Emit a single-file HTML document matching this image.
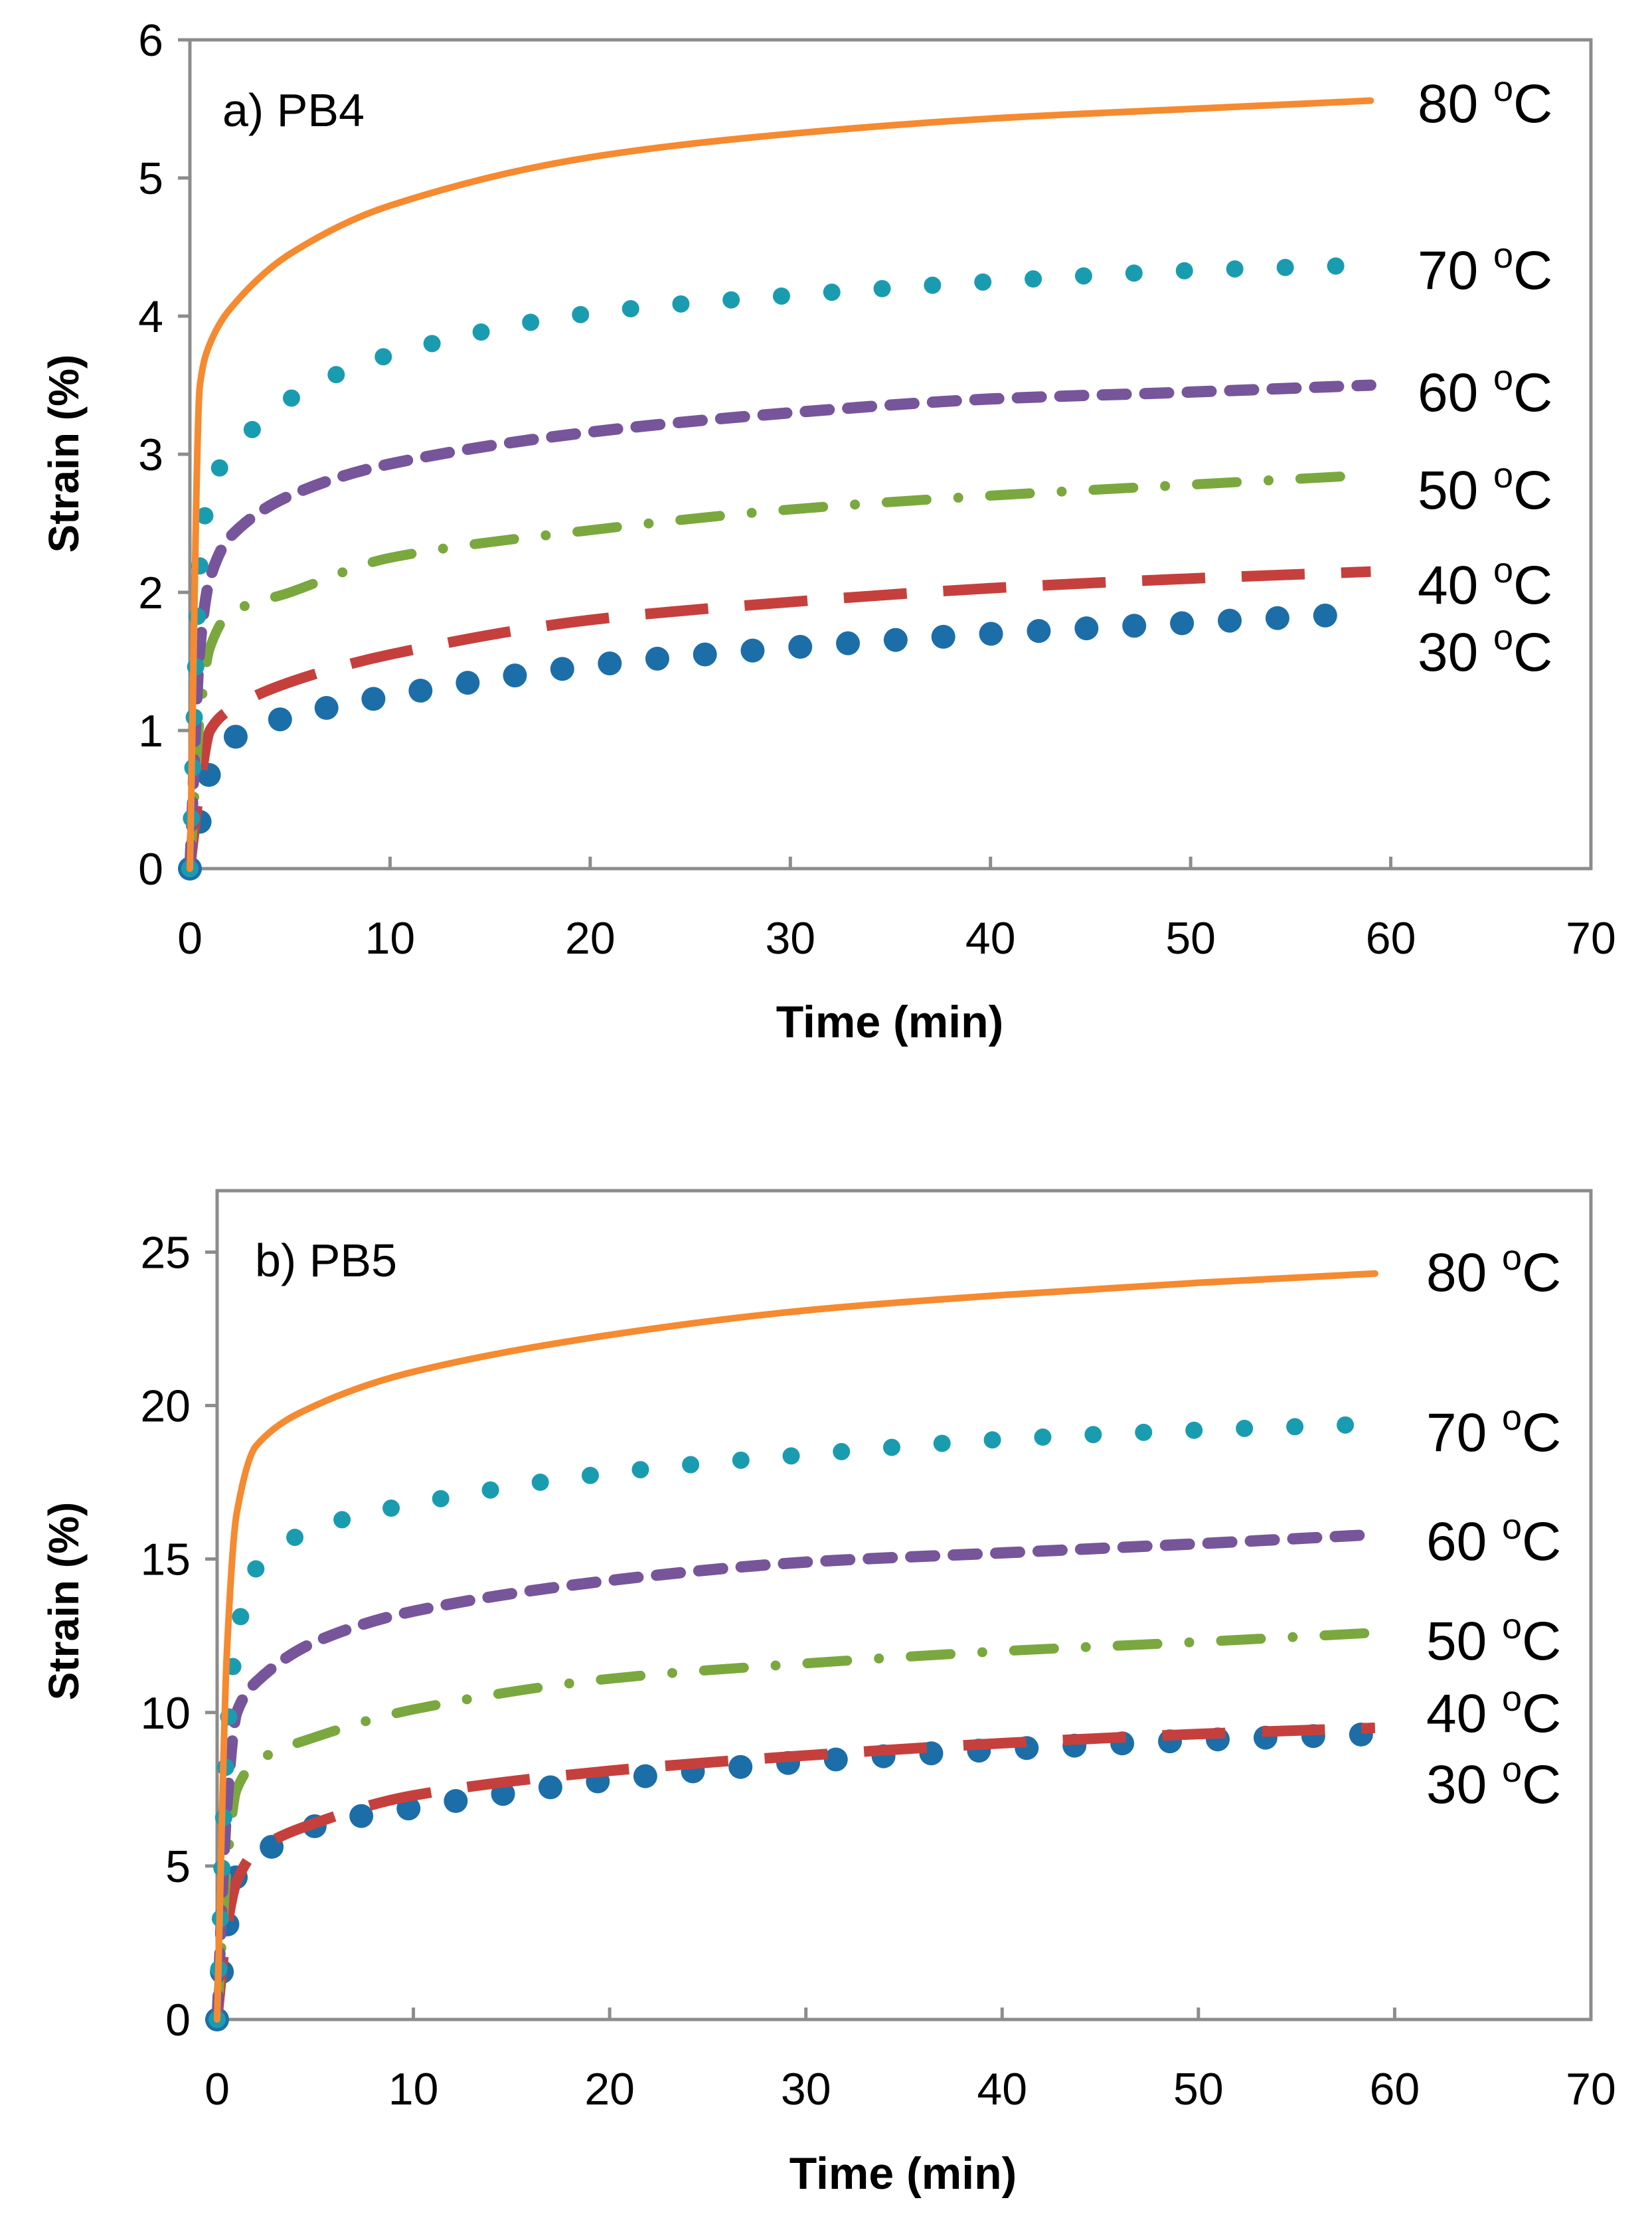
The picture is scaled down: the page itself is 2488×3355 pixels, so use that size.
<!DOCTYPE html>
<html><head><meta charset="utf-8"><style>
html,body{margin:0;padding:0;background:#fff}
svg{display:block}
text{font-family:"Liberation Sans",sans-serif}
</style></head><body>
<svg id="chart" width="2488" height="3355" viewBox="0 0 2488 3355" xmlns="http://www.w3.org/2000/svg"></svg>
<script>
const timesA = [0, 0.5, 1, 2, 5, 10, 20, 30, 40, 50, 59];
const pb4_80 = [0, 3.5, 3.8, 4.05, 4.45, 4.8, 5.15, 5.32, 5.43, 5.5, 5.56];
const pb4_70 = [0, 2.2, 2.75, 3.0, 3.4, 3.72, 4.02, 4.15, 4.25, 4.33, 4.37];
const pb4_60 = [0, 1.6, 2.1, 2.4, 2.7, 2.93, 3.16, 3.3, 3.4, 3.45, 3.5];
const pb4_50 = [0, 1.1, 1.6, 1.85, 2.0, 2.25, 2.45, 2.6, 2.7, 2.78, 2.85];
const pb4_40 = [0, 0.6, 1.0, 1.15, 1.35, 1.55, 1.8, 1.93, 2.03, 2.1, 2.15];
const pb4_30 = [0, 0.35, 0.7, 0.93, 1.1, 1.25, 1.47, 1.6, 1.7, 1.78, 1.85];
const pb5_80 = [0, 12, 16.5, 18.7, 20, 21.1, 22.3, 23.1, 23.6, 24, 24.3];
const pb5_70 = [0, 9, 12.5, 14.7, 16, 16.8, 17.8, 18.4, 18.9, 19.2, 19.4];
const pb5_60 = [0, 7, 10, 11, 12.3, 13.3, 14.3, 14.9, 15.2, 15.5, 15.8];
const pb5_50 = [0, 5, 7.5, 8.4, 9.2, 10.1, 11.1, 11.6, 12, 12.3, 12.6];
const pb5_40 = [0, 3, 4.5, 5.5, 6.4, 7.3, 8.1, 8.6, 9.0, 9.3, 9.5];
const pb5_30 = [0, 3, 4.7, 5.3, 6.3, 6.9, 7.8, 8.4, 8.8, 9.1, 9.3];
const xTicks = [0, 10, 20, 30, 40, 50, 60, 70];
const yTicksA = [0, 1, 2, 3, 4, 5, 6];
const yTicksB = [0, 5, 10, 15, 20, 25];
const seriesNames = ["80", "70", "60", "50", "40", "30"];

const NS = "http://www.w3.org/2000/svg";
const svg = document.getElementById("chart");
function mk(tag, attrs, parent) {
  const e = document.createElementNS(NS, tag);
  for (const k in attrs) e.setAttribute(k, attrs[k]);
  (parent || svg).appendChild(e);
  return e;
}
const styles = {
  "80": {stroke: "#f58a30", w: 10, dash: null, cap: "round"},
  "70": {stroke: "#1a9cb0", w: 26, dash: "0 76", cap: "round"},
  "60": {stroke: "#77559a", w: 17, dash: "36 28", cap: "round"},
  "50": {stroke: "#7aa83e", w: 15, dash: "60 48 0 48", cap: "round"},
  "40": {stroke: "#c5403d", w: 16, dash: "95 55", cap: "butt"},
  "30": {stroke: "#1c6ea8", w: 36, dash: "0 72", cap: "round"}
};
function monoPath(pts) {
  const n = pts.length, d = [], m = new Array(n);
  for (let i = 0; i < n - 1; i++) d.push((pts[i+1][1] - pts[i][1]) / (pts[i+1][0] - pts[i][0]));
  m[0] = d[0]; m[n-1] = d[n-2];
  for (let i = 1; i < n - 1; i++) m[i] = (d[i-1] * d[i] <= 0) ? 0 : 2 / (1 / d[i-1] + 1 / d[i]);
  let s = "M" + pts[0][0] + "," + pts[0][1];
  for (let i = 0; i < n - 1; i++) {
    const h = (pts[i+1][0] - pts[i][0]) / 3;
    s += " C" + (pts[i][0] + h) + "," + (pts[i][1] + m[i] * h) + " " + (pts[i+1][0] - h) + "," + (pts[i+1][1] - m[i+1] * h) + " " + pts[i+1][0] + "," + pts[i+1][1];
  }
  return s;
}
function drawChart(cfg) {
  const g = mk("g", {});
  
  
  const X = v => cfg.left + (v / 70) * (cfg.right - cfg.left);
  const Y = v => cfg.bottom - (v / cfg.ymax) * (cfg.bottom - cfg.top);
  const frame = mk("rect", {x: cfg.left, y: cfg.top, width: cfg.right - cfg.left, height: cfg.bottom - cfg.top, fill: "none", stroke: "#8c8c8c", "stroke-width": 5}, g);
  
  
  xTicks.forEach(t => {
    if (t > 0 && t < 70) {
      const tk = mk("line", {x1: X(t), x2: X(t), y1: cfg.bottom, y2: cfg.bottom - 18, stroke: "#8c8c8c", "stroke-width": 5}, g);
      
      
    }
    const tl = mk("text", {x: X(t), y: cfg.bottom + 128, "font-size": 68, "text-anchor": "middle", fill: "#000"}, g);
    tl.textContent = t;
    
    
  });
  cfg.yTicks.forEach(t => {
    const tk = mk("line", {x1: cfg.left - 18, x2: cfg.left, y1: Y(t), y2: Y(t), stroke: "#8c8c8c", "stroke-width": 5}, g);
    
    
    const tl = mk("text", {x: cfg.left - 40, y: Y(t) + 24, "font-size": 68, "text-anchor": "end", fill: "#000"}, g);
    tl.textContent = t;
    
    
  });
  const xt = mk("text", {x: cfg.xTitleX, y: cfg.xTitleY, "font-size": 68, "font-weight": "bold", "text-anchor": "middle"}, g);
  xt.textContent = "Time (min)";
  
  
  const yt = mk("text", {x: 0, y: 0, "font-size": 64, "font-weight": "bold", "text-anchor": "middle", transform: "translate(" + 118 + "," + cfg.yTitleY + ") rotate(-90)"}, g);
  yt.textContent = "Strain (%)";
  
  
  const pl = mk("text", {x: cfg.panelX, y: cfg.panelY, "font-size": 70}, g);
  pl.textContent = cfg.panel;
  
  
  const order = ["30", "40", "50", "60", "70", "80"];
  order.forEach(n => {
    const vals = cfg.series[seriesNames.indexOf(n)];
    const pts = timesA.map((t, i) => [X(t), Y(vals[i])]);
    const s = styles[n];
    const p = mk("path", {d: monoPath(pts), fill: "none", stroke: s.stroke, "stroke-width": s.w, "stroke-linecap": s.cap, "stroke-linejoin": "round"}, g);
    if (s.dash) p.setAttribute("stroke-dasharray", s.dash);
    
    
  });
  seriesNames.forEach((n, i) => {
    const lt = mk("text", {x: cfg.labelX, y: cfg.labelY[i] + 30, "font-size": 82}, g);
    lt.textContent = n + " ";
    const sup = mk("tspan", {dy: -32, "font-size": 54}, lt);
    sup.textContent = "o";
    const c = mk("tspan", {dy: 32}, lt);
    c.textContent = "C";
    
    
  });
}
drawChart({name: "chart-a-pb4", left: 286, right: 2396, top: 60, bottom: 1308, ymax: 6, yTicks: yTicksA,
  series: [pb4_80, pb4_70, pb4_60, pb4_50, pb4_40, pb4_30],
  panel: "a) PB4", panelX: 335, panelY: 190, xTitleX: 1340, xTitleY: 1562, yTitleY: 683,
  labelX: 2135, labelY: [154, 405, 589, 736, 879, 980]});
drawChart({name: "chart-b-pb5", left: 327, right: 2396, top: 1793, bottom: 3041, ymax: 27, yTicks: yTicksB,
  series: [pb5_80, pb5_70, pb5_60, pb5_50, pb5_40, pb5_30],
  panel: "b) PB5", panelX: 384, panelY: 1922, xTitleX: 1360, xTitleY: 3296, yTitleY: 2411,
  labelX: 2148, labelY: [1914, 2155, 2319, 2469, 2578, 2685]});
</script>
</body></html>
